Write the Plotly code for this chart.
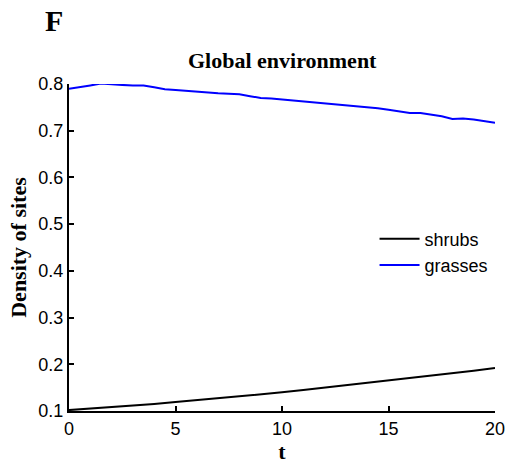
import plotly.graph_objects as go

# Time points and site densities
t_shrubs = list(range(0, 21))
shrubs = [0.102, 0.105, 0.108, 0.111, 0.115, 0.119, 0.123, 0.127, 0.131, 0.135,
          0.140, 0.145, 0.150, 0.155, 0.160, 0.165, 0.170, 0.175, 0.181, 0.186, 0.192]

t_grasses = [i * 0.5 for i in range(41)]
grasses = [0.790, 0.793, 0.797, 0.801, 0.799, 0.798, 0.797, 0.797, 0.793, 0.789,
           0.787, 0.785, 0.783, 0.782, 0.780, 0.779, 0.778, 0.774, 0.770, 0.769,
           0.767, 0.765, 0.762, 0.760, 0.758, 0.756, 0.754, 0.752, 0.750, 0.748,
           0.745, 0.741, 0.738, 0.738, 0.735, 0.731, 0.725, 0.726, 0.724, 0.721, 0.717]

x_ticks = [0, 5, 10, 15, 20]
y_ticks = [0.1, 0.2, 0.3, 0.4, 0.5, 0.6, 0.7, 0.8]

# Plot area in pixels
W, H = 517, 468
ML, MR, MT, MB = 69, 13, 84, 53
plot_w = W - ML - MR
plot_h = H - MT - MB

fig = go.Figure()
fig.add_trace(go.Scatter(x=t_shrubs, y=shrubs, mode="lines", name="shrubs",
                         line=dict(color="black", width=2)))
fig.add_trace(go.Scatter(x=t_grasses, y=grasses, mode="lines", name="grasses",
                         line=dict(color="#0000ff", width=2)))

sans = "Arial, Liberation Sans, sans-serif"
serif = "Times New Roman, Liberation Serif, serif"
tick_font = dict(family=sans, size=18, color="black")
title_font = dict(family=serif, size=22, color="black")

fig.update_layout(
    width=W, height=H,
    margin=dict(l=ML, r=MR, t=MT, b=MB),
    paper_bgcolor="white", plot_bgcolor="white",
    showlegend=True,
    legend=dict(x=(381 - ML) / plot_w, y=1 - (254 - MT) / plot_h,
                xanchor="left", yanchor="middle",
                bgcolor="rgba(0,0,0,0)", borderwidth=0,
                font=dict(family=sans, size=18, color="black"),
                tracegroupgap=0, itemwidth=40),
    xaxis=dict(range=[0, 20], tickvals=x_ticks, ticks="inside", ticklen=5,
               tickwidth=1.5, tickcolor="black", showline=True, linecolor="black",
               linewidth=2, showgrid=False, zeroline=False, tickfont=tick_font,
               title=dict(text="<b>t</b>", font=title_font, standoff=2)),
    yaxis=dict(range=[0.1, 0.8], tickvals=y_ticks, ticktext=[f"{v:.1f}" for v in y_ticks],
               ticks="inside", ticklen=5, tickwidth=1.5, tickcolor="black",
               showline=True, linecolor="black", linewidth=2, showgrid=False,
               zeroline=False, tickfont=tick_font,
               title=dict(text="<b>Density of sites</b>", font=title_font, standoff=6)),
    annotations=[
        dict(text="<b>Global environment</b>", xref="paper", yref="paper",
             x=0.5, y=1 + (MT - 60) / plot_h, xanchor="center", yanchor="middle",
             showarrow=False, font=title_font),
        dict(text="<b>F</b>", xref="paper", yref="paper",
             x=(54 - ML) / plot_w, y=1 + (MT - 20) / plot_h,
             xanchor="center", yanchor="middle", showarrow=False,
             font=dict(family=serif, size=30, color="black")),
    ],
)

fig.write_html("out.html")
